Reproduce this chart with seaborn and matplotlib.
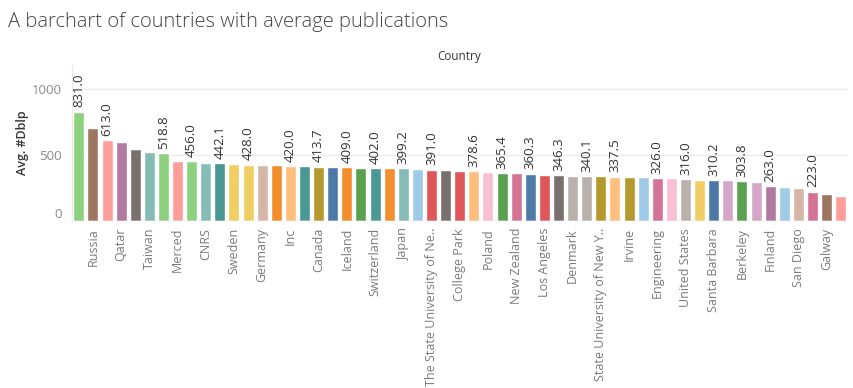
import pandas as pd
import seaborn as sns
import matplotlib.pyplot as plt

# values, in bar order (55 bars)
avg_dblp = [831.0, 707, 613.0, 600, 547, 524, 518.8, 457, 456.0, 443,
            442.1, 431, 428.0, 424, 423, 420.0, 417, 413.7, 410, 409.0,
            406, 402.0, 400, 399.2, 395, 391.0, 386, 381, 378.6, 376,
            365.4, 364, 360.3, 348, 346.3, 342, 340.1, 339, 337.5, 335,
            333, 326.0, 324, 316.0, 312, 310.2, 309, 303.8, 297, 263.0,
            256, 249, 223.0, 207, 193]

# only every other name is readable in the original; the rest stay blank
countries = ["", "Russia", "", "Qatar", "", "Taiwan", "", "Merced", "", "CNRS",
             "", "Sweden", "", "Germany", "", "Inc", "", "Canada", "", "Iceland",
             "", "Switzerland", "", "Japan", "", "The State University of Ne..",
             "", "College Park", "", "Poland", "", "New Zealand", "", "Los Angeles",
             "", "Denmark", "", "State University of New Y..", "", "Irvine",
             "", "Engineering", "", "United States", "", "Santa Barbara",
             "", "Berkeley", "", "Finland", "", "San Diego", "", "Galway", ""]

# bars that carry a value label (0-based)
labeled = [0, 2, 6, 8, 10, 12, 15, 17, 19, 21, 23, 25, 28, 30, 32, 34, 36,
           38, 41, 43, 45, 47, 49, 52]

bar_colors = ["#8CD17D", "#9D7660", "#FF9D9A", "#B07AA1", "#79706E",
              "#86BCB6", "#8CD17D", "#FF9D9A", "#8CD17D", "#86BCB6",
              "#499894", "#F1CE63", "#F1CE63", "#D7B5A6", "#F28E2B",
              "#FFBE7D", "#499894", "#B6992D", "#4E79A7", "#F28E2B",
              "#59A14F", "#499894", "#F28E2B", "#86BCB6", "#A0CBE8",
              "#E15759", "#79706E", "#E15759", "#FFBE7D", "#FABFD2",
              "#59A14F", "#D37295", "#4E79A7", "#E15759", "#79706E",
              "#BAB0AC", "#BAB0AC", "#B6992D", "#FFBE7D", "#B6992D",
              "#A0CBE8", "#D37295", "#FABFD2", "#BAB0AC", "#F1CE63",
              "#4E79A7", "#D4A6C8", "#59A14F", "#D4A6C8", "#B07AA1",
              "#A0CBE8", "#D7B5A6", "#D37295", "#9D7660", "#FF9D9A"]

sns.set_style("white")
plt.rcParams['font.family'] = ['Open Sans', 'DejaVu Sans']

df = pd.DataFrame({"slot": [str(i) for i in range(len(avg_dblp))],
                   "avg": avg_dblp})
palette = dict(zip(df.slot, bar_colors))

fig = plt.figure(figsize=(8.54, 3.88), dpi=100)
ax = fig.add_axes([0.0840, 0.4304, 0.9087, 0.4021])

sns.barplot(data=df, x="slot", y="avg", hue="slot", palette=palette,
            legend=False, width=0.78, saturation=1, ax=ax)

for i in labeled:
    ax.annotate(f"{avg_dblp[i]:.1f}", (i, avg_dblp[i]), xytext=(0, 3),
                textcoords="offset points", rotation=90, ha="center",
                va="bottom", fontsize=9.5, color="#333333")

ax.set_xlim(-0.5, len(avg_dblp) - 0.5)
ax.set_ylim(0, 1185)
ax.set_yticks([0, 500, 1000])
ax.set_yticklabels(["0", "500", "1000"], fontsize=9.5, color="#8a8a8a")
ax.get_yticklabels()[0].set_va("bottom")
ax.set_xticks(range(len(countries)))
ax.set_xticklabels(countries, rotation=90, fontsize=9, color="#7a7a7a")
ax.tick_params(axis="both", length=0)
ax.tick_params(axis="x", pad=5)
ax.tick_params(axis="y", pad=7)

ax.grid(axis="y", color="#ebebeb", linewidth=1)
ax.set_axisbelow(True)
ax.axhline(0, color="#e0e0e0", linewidth=1)
for side in ["top", "right", "bottom"]:
    ax.spines[side].set_visible(False)
ax.spines["left"].set_color("#ebebeb")

ax.set_xlabel("")
ax.set_ylabel("Avg. #Dblp", fontsize=9, color="#333333", fontweight="semibold",
              labelpad=2)

fig.text(0.538, 0.855, "Country", fontsize=8.5, color="#333333",
         ha="center", va="center")

fig.text(0.009, 0.943, "A barchart of countries with average publications",
         fontsize=14.5, color="#444444", va="center", ha="left",
         fontweight="light")

plt.savefig("out.png", dpi=100)
